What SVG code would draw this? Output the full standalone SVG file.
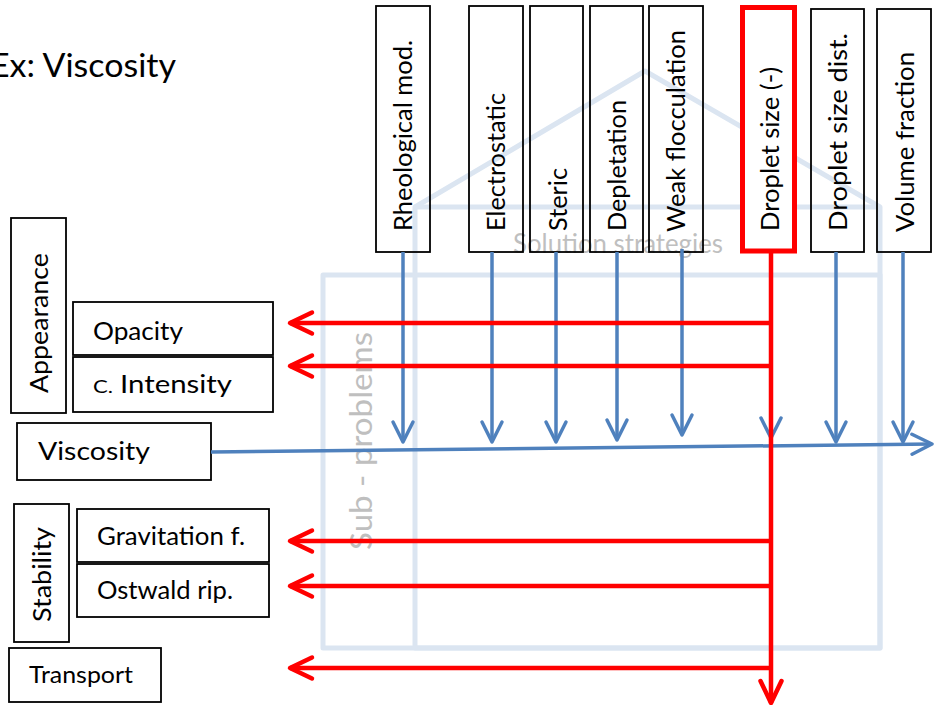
<svg xmlns="http://www.w3.org/2000/svg" width="934" height="705" viewBox="0 0 934 705">
  <style>
    text { font-family: Lato, "Liberation Sans", sans-serif; fill: #000; }
    .lbl { font-size: 25px; }
    .ghost { fill: #bfbfbf; }
    .box { fill: none; stroke: #000; stroke-width: 1.8; }
    .hot { fill: #fff; stroke: #ff0000; stroke-width: 5; }
    .frame { fill: none; stroke: #dbe5f1; stroke-width: 5; stroke-linejoin: round; }
    .blue { fill: none; stroke: #4f81bd; stroke-width: 3.5; }
    .red { fill: none; stroke: #ff0000; stroke-width: 4.5; }
  </style>
  <defs>
    <marker id="headBlue" markerUnits="userSpaceOnUse" markerWidth="30" markerHeight="30" refX="22" refY="12" orient="auto" overflow="visible">
      <path d="M2,2 L22,12 L2,22" fill="none" stroke="#4f81bd" stroke-width="3.5" stroke-linecap="round" stroke-linejoin="round"/>
    </marker>
    <marker id="headRed" markerUnits="userSpaceOnUse" markerWidth="30" markerHeight="30" refX="24" refY="12" orient="auto" overflow="visible">
      <path d="M2,1.5 L24,12 L2,22.5" fill="none" stroke="#ff0000" stroke-width="4.5" stroke-linecap="round" stroke-linejoin="round"/>
    </marker>
  </defs>

  <!-- background frames: house of solution strategies and sub-problem grid -->
  <g id="frames">
    <path class="frame" d="M415,648 L415,207 L645,71 L880,207 L880,648 Z"/>
    <line class="frame" x1="415" y1="207" x2="880" y2="207"/>
    <rect class="frame" x="323" y="275" width="557" height="373"/>
    <text class="ghost" x="513" y="253" font-size="26" textLength="210" lengthAdjust="spacingAndGlyphs">Solution strategies</text>
    <text class="ghost" transform="translate(372,550) rotate(-90)" font-size="30" textLength="218" lengthAdjust="spacingAndGlyphs">Sub - problems</text>
  </g>

  <text id="title" x="-10" y="77" font-size="33" textLength="186" lengthAdjust="spacingAndGlyphs">Ex: Viscosity</text>

  <!-- solution strategy columns -->
  <g id="rheological">
    <rect class="box" x="376" y="6" width="54" height="246"/>
    <text class="lbl" transform="translate(412,231) rotate(-90)" textLength="191" lengthAdjust="spacingAndGlyphs">Rheological mod.</text>
  </g>
  <g id="electrostatic">
    <rect class="box" x="469" y="6" width="54" height="246"/>
    <text class="lbl" transform="translate(505,231) rotate(-90)" textLength="138" lengthAdjust="spacingAndGlyphs">Electrostatic</text>
  </g>
  <g id="steric">
    <rect class="box" x="530" y="6" width="53" height="246"/>
    <text class="lbl" transform="translate(567,231) rotate(-90)" textLength="63" lengthAdjust="spacingAndGlyphs">Steric</text>
  </g>
  <g id="depletation">
    <rect class="box" x="590" y="6" width="53" height="246"/>
    <text class="lbl" transform="translate(626,231) rotate(-90)" textLength="131" lengthAdjust="spacingAndGlyphs">Depletation</text>
  </g>
  <g id="weak-flocculation">
    <rect class="box" x="649" y="6" width="54" height="246"/>
    <text class="lbl" transform="translate(685,232) rotate(-90)" textLength="202" lengthAdjust="spacingAndGlyphs">Weak flocculation</text>
  </g>
  <g id="droplet-size">
    <rect class="hot" x="742.5" y="7.5" width="52" height="243.5"/>
    <text class="lbl" transform="translate(779,231) rotate(-90)" textLength="164" lengthAdjust="spacingAndGlyphs">Droplet size (-)</text>
  </g>
  <g id="droplet-size-dist">
    <rect class="box" x="811" y="9" width="53" height="243"/>
    <text class="lbl" transform="translate(847,231) rotate(-90)" textLength="198" lengthAdjust="spacingAndGlyphs">Droplet size dist.</text>
  </g>
  <g id="volume-fraction">
    <rect class="box" x="877" y="9" width="54" height="243"/>
    <text class="lbl" transform="translate(914,232) rotate(-90)" textLength="180" lengthAdjust="spacingAndGlyphs">Volume fraction</text>
  </g>

  <!-- sub-problems -->
  <g id="appearance">
    <rect class="box" x="11" y="218" width="55" height="195"/>
    <text class="lbl" transform="translate(48,393) rotate(-90)" textLength="140" lengthAdjust="spacingAndGlyphs">Appearance</text>
  </g>
  <g id="opacity">
    <rect class="box" x="73" y="302" width="200" height="53"/>
    <text class="lbl" x="93" y="340" textLength="90" lengthAdjust="spacingAndGlyphs">Opacity</text>
  </g>
  <g id="color-intensity">
    <rect class="box" x="73" y="357" width="200" height="55"/>
    <text x="93" y="393" font-size="17" textLength="20" lengthAdjust="spacingAndGlyphs">C.</text>
    <text class="lbl" x="120" y="393" textLength="112" lengthAdjust="spacingAndGlyphs">Intensity</text>
  </g>
  <g id="viscosity">
    <rect class="box" x="17" y="423" width="194" height="57"/>
    <text class="lbl" x="38" y="460" textLength="112" lengthAdjust="spacingAndGlyphs">Viscosity</text>
  </g>
  <g id="stability">
    <rect class="box" x="14" y="504" width="55" height="138"/>
    <text class="lbl" transform="translate(51,622) rotate(-90)" textLength="95" lengthAdjust="spacingAndGlyphs">Stability</text>
  </g>
  <g id="gravitation">
    <rect class="box" x="77" y="509" width="192" height="53"/>
    <text class="lbl" x="97" y="545" textLength="148" lengthAdjust="spacingAndGlyphs">Gravitation f.</text>
  </g>
  <g id="ostwald">
    <rect class="box" x="77" y="564" width="192" height="53"/>
    <text class="lbl" x="97" y="599" textLength="136" lengthAdjust="spacingAndGlyphs">Ostwald rip.</text>
  </g>
  <g id="transport">
    <rect class="box" x="9" y="648" width="152" height="54"/>
    <text x="29" y="683" font-size="23" textLength="104" lengthAdjust="spacingAndGlyphs">Transport</text>
  </g>

  <!-- connectors -->
  <g id="connectors">
    <line class="blue" x1="403" y1="252" x2="403" y2="442" marker-end="url(#headBlue)"/>
    <line class="blue" x1="492" y1="252" x2="492" y2="442" marker-end="url(#headBlue)"/>
    <line class="blue" x1="556" y1="252" x2="556" y2="442" marker-end="url(#headBlue)"/>
    <line class="blue" x1="617" y1="252" x2="617" y2="440" marker-end="url(#headBlue)"/>
    <line class="blue" x1="682" y1="249" x2="682" y2="435" marker-end="url(#headBlue)"/>
    <line class="blue" x1="771" y1="253" x2="771" y2="438" marker-end="url(#headBlue)"/>
    <line class="blue" x1="836" y1="252" x2="836" y2="442" marker-end="url(#headBlue)"/>
    <line class="blue" x1="903" y1="252" x2="903" y2="442" marker-end="url(#headBlue)"/>
    <line class="blue" x1="211" y1="452" x2="932" y2="444" marker-end="url(#headBlue)"/>

    <line class="red" x1="771" y1="253" x2="771" y2="703" marker-end="url(#headRed)"/>
    <line class="red" x1="771" y1="323" x2="290" y2="323" marker-end="url(#headRed)"/>
    <line class="red" x1="771" y1="366" x2="290" y2="366" marker-end="url(#headRed)"/>
    <line class="red" x1="771" y1="541" x2="290" y2="541" marker-end="url(#headRed)"/>
    <line class="red" x1="771" y1="586" x2="290" y2="586" marker-end="url(#headRed)"/>
    <line class="red" x1="771" y1="668" x2="290" y2="668" marker-end="url(#headRed)"/>
  </g>
</svg>
